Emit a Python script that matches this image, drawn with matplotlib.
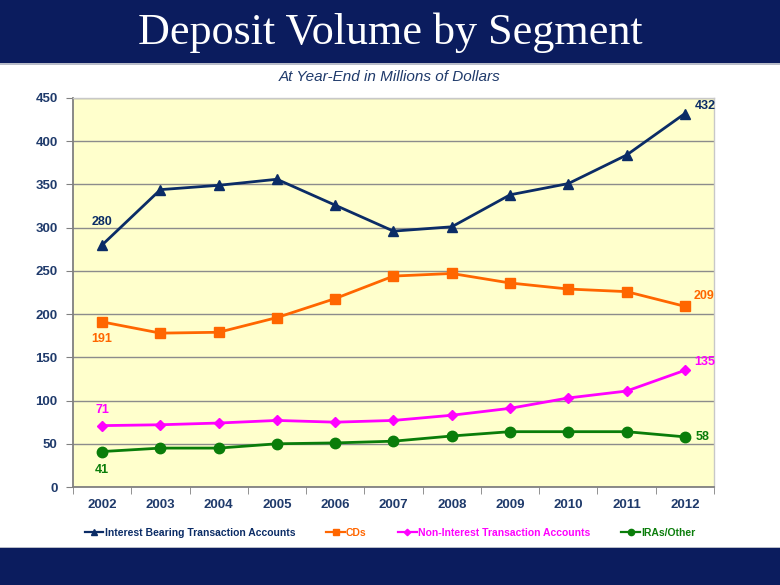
import matplotlib
matplotlib.use("Agg")
import matplotlib.pyplot as plt
from matplotlib.patches import Rectangle

years = [2002, 2003, 2004, 2005, 2006, 2007, 2008, 2009, 2010, 2011, 2012]
interest_bearing = [280, 344, 349, 356, 326, 296, 301, 338, 351, 384, 432]
cds = [191, 178, 179, 196, 218, 244, 247, 236, 229, 226, 209]
non_interest = [71, 72, 74, 77, 75, 77, 83, 91, 103, 111, 135]
iras = [41, 45, 45, 50, 51, 53, 59, 64, 64, 64, 58]

series_names = ["Interest Bearing Transaction Accounts", "CDs",
                "Non-Interest Transaction Accounts", "IRAs/Other"]
colors = ["#0B2C66", "#FF6600", "#FF00FF", "#0A7D0A"]
markers = ["^", "s", "D", "o"]
msizes = [7.5, 7, 5.5, 7.5]
yticks = [0, 50, 100, 150, 200, 250, 300, 350, 400, 450]

navy = "#0B1C5E"
tick_color = "#1F3A6B"

fig = plt.figure(figsize=(7.8, 5.85), dpi=100)
fig.patch.set_facecolor("white")

# banners
fig.patches.append(Rectangle((0, 1 - 63/585), 1, 63/585, transform=fig.transFigure,
                             facecolor=navy, edgecolor="none", zorder=0))
fig.patches.append(Rectangle((0, 1 - 65/585), 1, 2/585, transform=fig.transFigure,
                             facecolor="#B8BCC8", edgecolor="none", zorder=0))
fig.patches.append(Rectangle((0, 0), 1, 37/585, transform=fig.transFigure,
                             facecolor=navy, edgecolor="none", zorder=0))
fig.patches.append(Rectangle((0, 37/585), 1, 1.5/585, transform=fig.transFigure,
                             facecolor="#B8BCC8", edgecolor="none", zorder=0))

fig.text(0.5, 1 - 33/585, "Deposit Volume by Segment", ha="center", va="center",
         color="white", fontsize=31.8, family="Liberation Serif")
fig.text(0.5, 1 - 77/585, "At Year-End in Millions of Dollars", ha="center", va="center",
         color=tick_color, fontsize=11, style="italic", family="Liberation Sans")

ax = fig.add_axes([73/780, 1 - 487/585, (714 - 73)/780, (487 - 98)/585])
ax.set_facecolor("#FFFFCC")

data = [interest_bearing, cds, non_interest, iras]
for vals, name, c, m, ms in zip(data, series_names, colors, markers, msizes):
    ax.plot(years, vals, color=c, marker=m, markersize=ms, linewidth=2,
            label=name, zorder=3)

ax.set_xlim(years[0] - 0.5, years[-1] + 0.5)
ax.set_ylim(0, 450)
ax.set_yticks(yticks)
ax.set_xticks(years)
ax.set_xticks([y - 0.5 for y in years] + [years[-1] + 0.5], minor=True)
ax.tick_params(axis="x", which="major", length=0, pad=9)
ax.tick_params(axis="x", which="minor", length=5, direction="out", color="#808080")
ax.tick_params(axis="y", length=5, direction="out", color="#808080", pad=6)
for lab in ax.get_xticklabels() + ax.get_yticklabels():
    lab.set_fontweight("bold")
    lab.set_color(tick_color)
    lab.set_fontsize(9.5)
    lab.set_family("Liberation Sans")

ax.grid(axis="y", color="#8C8C8C", linewidth=1)
ax.set_axisbelow(True)
for side in ["left", "bottom"]:
    ax.spines[side].set_color("#808080")
    ax.spines[side].set_linewidth(1.3)
for side in ["top", "right"]:
    ax.spines[side].set_color("#C8C8C8")
    ax.spines[side].set_linewidth(1)

lbl = dict(fontsize=9, fontweight="bold", family="Liberation Sans")
ax.annotate(str(interest_bearing[0]), (years[0], interest_bearing[0]), xytext=(0, 12),
            textcoords="offset points", ha="center", va="bottom", color=colors[0], **lbl)
ax.annotate(str(interest_bearing[-1]), (years[-1], interest_bearing[-1]), xytext=(7, 1),
            textcoords="offset points", ha="left", va="bottom", color=colors[0], **lbl)
ax.annotate(str(cds[0]), (years[0], cds[0]), xytext=(0, -8),
            textcoords="offset points", ha="center", va="top", color=colors[1], **lbl)
ax.annotate(str(cds[-1]), (years[-1], cds[-1]), xytext=(6, 3),
            textcoords="offset points", ha="left", va="bottom", color=colors[1], **lbl)
ax.annotate(str(non_interest[0]), (years[0], non_interest[0]), xytext=(0, 7),
            textcoords="offset points", ha="center", va="bottom", color=colors[2], **lbl)
ax.annotate(str(non_interest[-1]), (years[-1], non_interest[-1]), xytext=(7, 2),
            textcoords="offset points", ha="left", va="bottom", color=colors[2], **lbl)
ax.annotate(str(iras[0]), (years[0], iras[0]), xytext=(0, -9),
            textcoords="offset points", ha="center", va="top", color=colors[3], **lbl)
ax.annotate(str(iras[-1]), (years[-1], iras[-1]), xytext=(8, 0),
            textcoords="offset points", ha="left", va="center", color=colors[3], **lbl)

leg = fig.legend(loc="center", bbox_to_anchor=(0.5, 1 - 533/585), ncol=4, frameon=False,
                 prop=dict(size=7.5, weight="bold", family="Liberation Sans"),
                 handlelength=1.8, handletextpad=0.1, columnspacing=3.0, markerscale=0.6)
for t, c in zip(leg.get_texts(), colors):
    t.set_color(c)
for h in leg.legend_handles:
    h.set_linewidth(1.6)

fig.savefig("out.png", dpi=100, facecolor=fig.get_facecolor())
